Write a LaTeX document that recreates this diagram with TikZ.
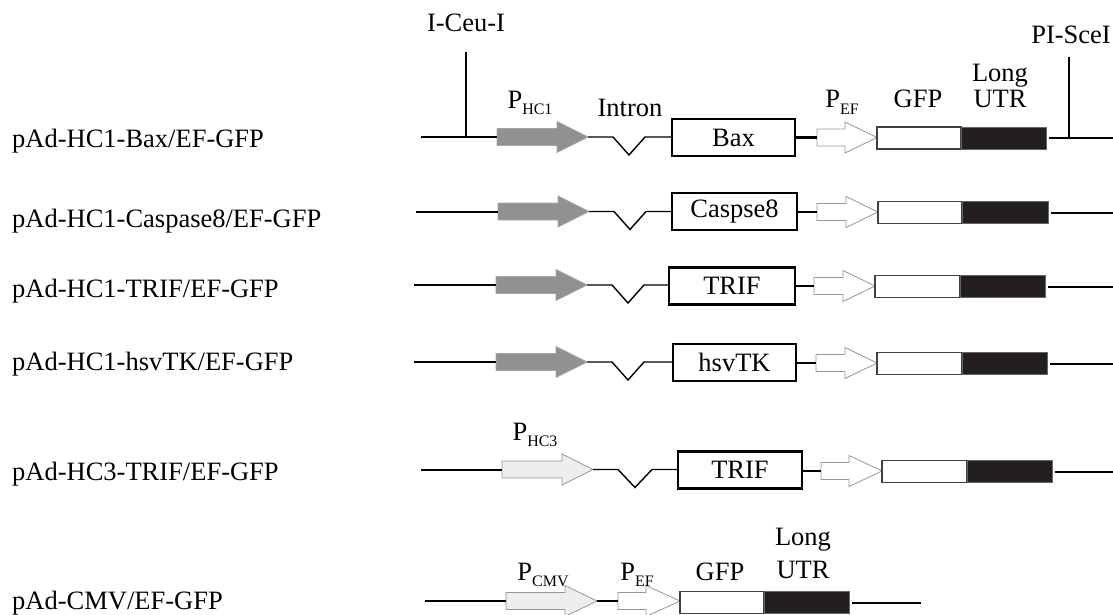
\documentclass[tikz,border=0pt]{standalone}
\usepackage{fontspec}
\setmainfont{Liberation Serif}
\definecolor{hcfill}{RGB}{145,145,145}
\definecolor{hcline}{RGB}{165,165,165}
\definecolor{ltfill}{RGB}{238,238,238}
\definecolor{ltline}{RGB}{150,150,150}
\definecolor{utrfill}{RGB}{35,31,32}
\newcommand\prom[6]{%
  \draw[#1] (#3,#6-8.5) -- (#4,#6-8.5) -- (#4,#6-15.5) -- (#5,#6) -- (#4,#6+15.5) -- (#4,#6+8.5) -- (#3,#6+8.5) -- cycle;
  \coordinate (#2-w) at (#3,#6);
  \coordinate (#2-e) at (#5,#6);}
\newcommand\psub[1]{P\raisebox{-6pt}{\fontsize{16}{16}\selectfont #1}}
\begin{document}
\begin{tikzpicture}[x=1pt,y=-1pt,
  dna/.style={line width=2pt,draw=black},
  intron/.style={line width=1.4pt,draw=black},
  hcone/.style={fill=hcfill,draw=hcline,line width=0.8pt},
  hclight/.style={fill=ltfill,draw=ltline,line width=0.8pt},
  efarrow/.style={fill=white,draw=ltline,line width=0.8pt},
  genebox/.style={draw=black,line width=2.4pt,fill=white,minimum height=37pt,inner sep=0pt,font=\fontsize{26.5}{30}\selectfont},
  gfpbox/.style={draw=black!75,line width=1.2pt,fill=white,minimum height=22pt,inner sep=0pt},
  utrbox/.style={draw=black!60,line width=0.8pt,fill=utrfill,minimum height=22pt,inner sep=0pt},
  lbl/.style={inner sep=0pt,font=\fontsize{26.5}{30}\selectfont},
  rowlbl/.style={lbl,anchor=base west}]
\useasboundingbox (0,0) rectangle (1113,615);

% ---------- row labels
\node[rowlbl] (l1) at (12,147) {pAd-HC1-Bax/EF-GFP};
\node[rowlbl] (l2) at (12,227) {pAd-HC1-Caspase8/EF-GFP};
\node[rowlbl] (l3) at (12,297) {pAd-HC1-TRIF/EF-GFP};
\node[rowlbl] (l4) at (12,370) {pAd-HC1-hsvTK/EF-GFP};
\node[rowlbl] (l5) at (12,480) {pAd-HC3-TRIF/EF-GFP};
\node[rowlbl] (l6) at (12,609) {pAd-CMV/EF-GFP};

% ---------- row 1
\coordinate (s1) at (421,137);
\prom{hcone}{p1}{497}{557}{588}{137}
\draw[dna] (s1) -- (p1-w);
\node[genebox,minimum width=123pt] (b1) at (733.5,137.5) {Bax};
\draw[intron] (p1-e) -- ++(25,0) -- ++(16,18) -- ++(16,-18) -- (b1.west |- p1-e);
\prom{efarrow}{e1}{817}{845}{877}{137.5}
\draw[dna] (b1.east) -- (e1-w);
\node[gfpbox,minimum width=84pt] (g1) at (919,138) {};
\node[utrbox,minimum width=85pt] (u1) at (1003.5,138) {};
\coordinate (t1) at (1113,138);
\draw[dna,shorten <=3pt] (u1.east) -- (u1.east -| t1);
\coordinate (ceuT) at (466,52);
\coordinate (ceuB) at (466,137);
\draw[line width=1.5pt] (ceuT) -- (ceuB);
\coordinate (sceT) at (1069,57);
\coordinate (sceB) at (1069,138);
\draw[line width=1.5pt] (sceT) -- (sceB);
\node[lbl,anchor=base] (ceu) at (466,32) {I-Ceu-I};
\node[lbl,anchor=base east] (sce) at (1111,44) {PI-SceI};
\node[lbl,anchor=base] (ph1) at (530,109) {\psub{HC1}};
\node[lbl,anchor=base] (in1) at (630,117) {Intron};
\node[lbl,anchor=base] (pe1) at (842,108) {\psub{EF}};
\node[lbl,anchor=base] (gl1) at (918,108) {GFP};
\node[lbl,anchor=base] (lo1) at (1000,82) {Long};
\node[lbl,anchor=base] (ut1) at (1000,108) {UTR};

% ---------- row 2
\coordinate (s2) at (416,211.5);
\prom{hcone}{p2}{498}{558}{589}{211.5}
\draw[dna] (s2) -- (p2-w);
\node[genebox,minimum width=125pt] (b2) at (734.5,211.5) {Caspse8};
\draw[intron] (p2-e) -- ++(25,0) -- ++(16,18) -- ++(16,-18) -- (b2.west |- p2-e);
\prom{efarrow}{e2}{817}{846}{878}{212}
\draw[dna] (b2.east |- e2-w) -- (e2-w);
\node[gfpbox,minimum width=84pt] (g2) at (920,212.5) {};
\node[utrbox,minimum width=86pt] (u2) at (1005,212.5) {};
\coordinate (t2) at (1113,213);
\draw[dna,shorten <=3pt] (u2.east) -- (u2.east -| t2);

% ---------- row 3
\coordinate (s3) at (414,285);
\prom{hcone}{p3}{496}{556}{587}{285}
\draw[dna] (s3) -- (p3-w);
\node[genebox,minimum width=126pt] (b3) at (732,286) {TRIF};
\draw[intron] (p3-e) -- ++(25,0) -- ++(16,18) -- ++(16,-18) -- (b3.west |- p3-e);
\prom{efarrow}{e3}{814}{843}{875}{286}
\draw[dna] (b3.east |- e3-w) -- (e3-w);
\node[gfpbox,minimum width=85pt] (g3) at (917.5,286.5) {};
\node[utrbox,minimum width=85pt] (u3) at (1002.5,286.5) {};
\coordinate (t3) at (1113,287);
\draw[dna,shorten <=3pt] (u3.east) -- (u3.east -| t3);

% ---------- row 4
\coordinate (s4) at (414,362);
\prom{hcone}{p4}{496}{556}{587}{362}
\draw[dna] (s4) -- (p4-w);
\node[genebox,minimum width=123pt] (b4) at (734.5,362.5) {hsvTK};
\draw[intron] (p4-e) -- ++(25,0) -- ++(16,18) -- ++(16,-18) -- (b4.west |- p4-e);
\prom{efarrow}{e4}{816}{845}{877}{363}
\draw[dna] (b4.east |- e4-w) -- (e4-w);
\node[gfpbox,minimum width=85pt] (g4) at (919.5,363.5) {};
\node[utrbox,minimum width=85pt] (u4) at (1004.5,363.5) {};
\coordinate (t4) at (1113,365);
\draw[dna,shorten <=3pt] (u4.east) -- (u4.east -| t4);

% ---------- row 5
\coordinate (s5) at (421,469.5);
\prom{hclight}{p5}{502}{562}{593}{469.5}
\draw[dna] (s5) -- (p5-w);
\node[genebox,minimum width=124pt] (b5) at (740,470) {TRIF};
\draw[intron] (p5-e) -- ++(25,0) -- ++(17,18) -- ++(17,-18) -- (b5.west |- p5-e);
\prom{efarrow}{e5}{821}{849}{882}{471}
\draw[dna] (b5.east |- e5-w) -- (e5-w);
\node[gfpbox,minimum width=85pt] (g5) at (924.5,471.5) {};
\node[utrbox,minimum width=85pt] (u5) at (1009.5,471.5) {};
\coordinate (t5) at (1113,473);
\draw[dna,shorten <=3pt] (u5.east) -- (u5.east -| t5);
\node[lbl,anchor=base] (ph5) at (535,440) {\psub{HC3}};

% ---------- row 6
\coordinate (s6) at (425,601);
\prom{hclight}{p6}{506}{565}{597}{601}
\draw[dna] (s6) -- (p6-w);
\prom{efarrow}{e6}{618}{646}{680}{601}
\draw[dna] (p6-e) -- (e6-w);
\node[gfpbox,minimum width=84pt] (g6) at (722,602.5) {};
\node[utrbox,minimum width=85pt] (u6) at (806.5,602.5) {};
\coordinate (t6) at (921,603);
\draw[dna,shorten <=3pt] (u6.east) -- (u6.east -| t6);
\node[lbl,anchor=base] (ph6) at (543,580) {\psub{CMV}};
\node[lbl,anchor=base] (pe6) at (637,580) {\psub{EF}};
\node[lbl,anchor=base] (gl6) at (720,580) {GFP};
\node[lbl,anchor=base] (lo6) at (803,545) {Long};
\node[lbl,anchor=base] (ut6) at (803,578) {UTR};
\end{tikzpicture}
\end{document}
